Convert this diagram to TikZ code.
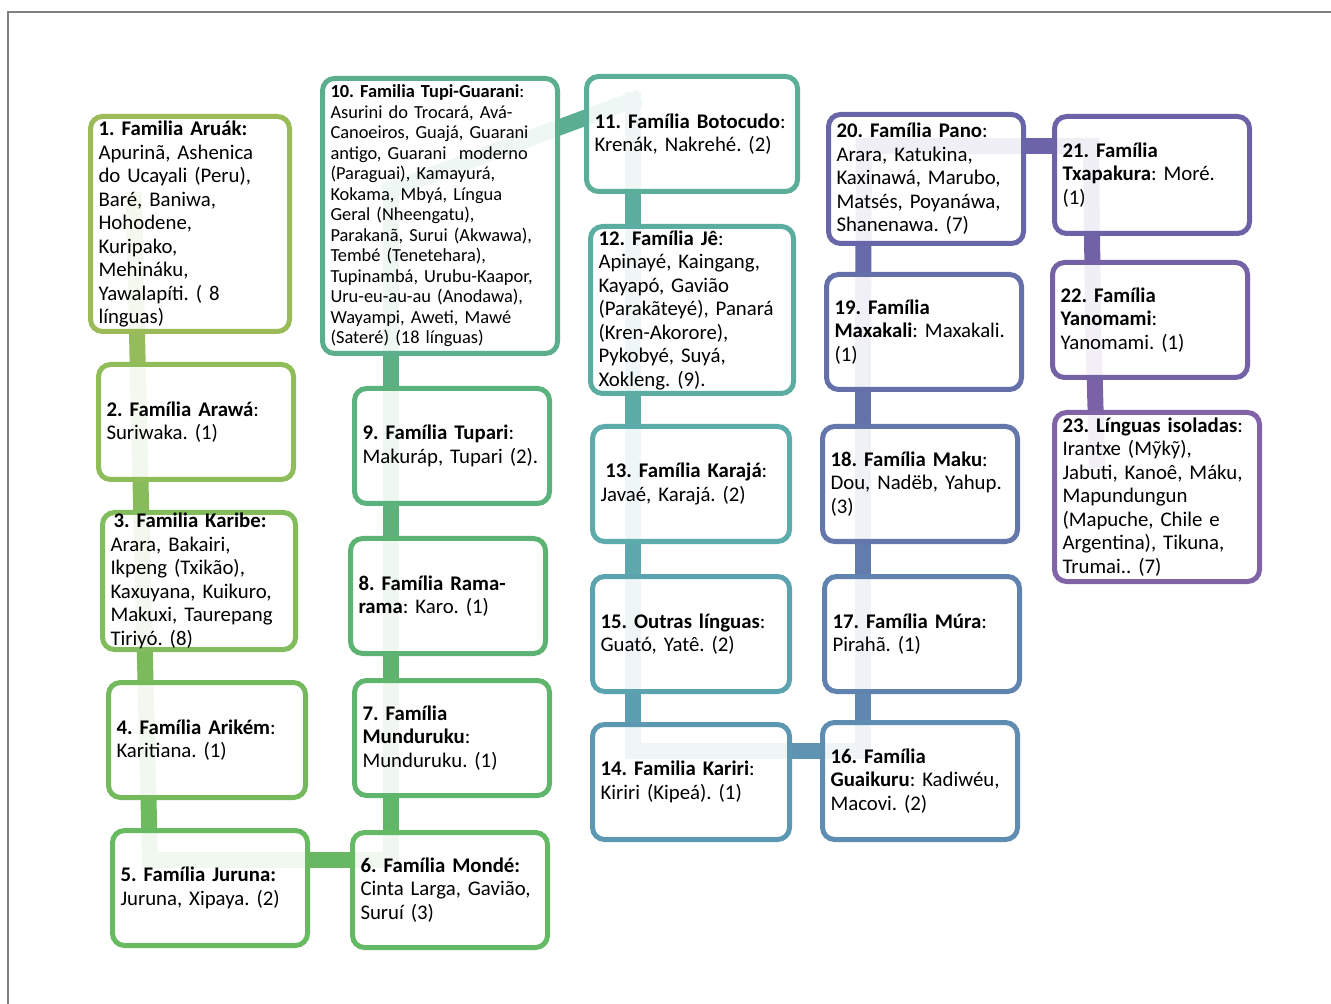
\documentclass[tikz,border=0pt]{standalone}
\usepackage{fontspec}
\setmainfont{Carlito}
\definecolor{f1}{HTML}{9BBB59}
\definecolor{f2}{HTML}{8FBD5A}
\definecolor{f3}{HTML}{82BC5C}
\definecolor{f4}{HTML}{74BA5C}
\definecolor{f5}{HTML}{68BA60}
\definecolor{f6}{HTML}{64B965}
\definecolor{f7}{HTML}{5FB56C}
\definecolor{f8}{HTML}{5DB373}
\definecolor{f9}{HTML}{5BB27C}
\definecolor{f10}{HTML}{5BAF8C}
\definecolor{f11}{HTML}{5BAE98}
\definecolor{f12}{HTML}{5CADA1}
\definecolor{f13}{HTML}{5BACAA}
\definecolor{f15}{HTML}{5CA3B0}
\definecolor{f14}{HTML}{5C98B2}
\definecolor{f16}{HTML}{5F8DB2}
\definecolor{f17}{HTML}{6082AF}
\definecolor{f18}{HTML}{6377AC}
\definecolor{f19}{HTML}{6570AA}
\definecolor{f20}{HTML}{6866A8}
\definecolor{f21}{HTML}{6E62A7}
\definecolor{f22}{HTML}{7561A6}
\definecolor{f23}{HTML}{8163A8}
\tikzset{
  fam/.style n args={3}{draw=#1, line width=2.5pt, rounded corners=6pt,
    fill=white, fill opacity=0.9, text opacity=1, align=left,
    inner xsep=4pt, inner ysep=0pt, text width=#2, minimum height=#3,
    font=\fontsize{10.4}{11.75}\selectfont\frenchspacing},
  conn/.style={line width=8pt, line cap=rect}
}
\begin{document}
\begin{tikzpicture}[x=0.5pt,y=-0.5pt]
    \useasboundingbox (0,0) rectangle (1331,1004);
    \coordinate (p1) at (134,200);
    \coordinate (p2) at (139,422);
    \coordinate (p3) at (143,581);
    \coordinate (p4) at (147,740);
    \coordinate (k1) at (150,860);
    \coordinate (k2) at (391,860);
    \coordinate (p7) at (391,738);
    \coordinate (p8) at (391,596);
    \coordinate (p9) at (391,446);
    \coordinate (k3) at (391,190);
    \coordinate (k4) at (633,100);
    \coordinate (p12) at (633,310);
    \coordinate (p13) at (633,484);
    \coordinate (p15) at (633,634);
    \coordinate (k5) at (633,751);
    \coordinate (k6) at (863,751);
    \coordinate (p17) at (863,634);
    \coordinate (p18) at (863,484);
    \coordinate (p19) at (863,332);
    \coordinate (k7) at (864,146);
    \coordinate (k8) at (1091,146);
    \coordinate (p22) at (1093,320);
    \coordinate (p23) at (1097,460);
    % Conector
    \draw[conn,f1!50!f2] (p1) -- (p2);
    \draw[conn,f2!50!f3] (p2) -- (p3);
    \draw[conn,f3!50!f4] (p3) -- (p4);
    \draw[conn,f4!50!f5] (p4) -- (k1);
    \draw[conn,f5!50!f6] (k1) -- (k2);
    \draw[conn,f6!50!f7] (k2) -- (p7);
    \draw[conn,f7!50!f8] (p7) -- (p8);
    \draw[conn,f8!50!f9] (p8) -- (p9);
    \draw[conn,f9!50!f10] (p9) -- (k3);
    \draw[conn,f10!50!f11] (k3) -- (k4);
    \draw[conn,f11!50!f12] (k4) -- (p12);
    \draw[conn,f12!50!f13] (p12) -- (p13);
    \draw[conn,f13!50!f15] (p13) -- (p15);
    \draw[conn,f15!50!f14] (p15) -- (k5);
    \draw[conn,f14!50!f16] (k5) -- (k6);
    \draw[conn,f16!50!f17] (k6) -- (p17);
    \draw[conn,f17!50!f18] (p17) -- (p18);
    \draw[conn,f18!50!f19] (p18) -- (p19);
    \draw[conn,f19!50!f20] (p19) -- (k7);
    \draw[conn,f20!50!f21] (k7) -- (k8);
    \draw[conn,f21!50!f22] (k8) -- (p22);
    \draw[conn,f22!50!f23] (p22) -- (p23);
    % Famílias
    \node[fam={f1}{91.5pt}{107.5pt}] (b1) at (190,224) {\textbf{1. Familia Aruák:}\\ Apurinã, Ashenica\\ do Ucayali (Peru),\\ Baré, Baniwa,\\ Hohodene,\\ Kuripako,\\ Mehináku,\\ Yawalapíti. ( 8\\ línguas)};
    \node[fam={f2}{89.5pt}{57.5pt}] (b2) at (196,422) {\textbf{2. Família Arawá}:\\ Suriwaka. (1)};
    \node[fam={f3}{88.5pt}{68.5pt}] (b3) at (199,581) {\hspace*{1.5pt}\textbf{3. Familia Karibe:}\\ Arara, Bakairi,\\ Ikpeng (Txikão),\\ Kaxuyana, Kuikuro,\\ Makuxi, Taurepang\\ Tiriyó. (8)};
    \node[fam={f4}{90.5pt}{57.5pt}] (b4) at (207,740) {\textbf{4. Família Arikém}:\\ Karitiana. (1)};
    \node[fam={f5}{89.5pt}{57.5pt}] (b5) at (210,888) {\textbf{5. Família Juruna:}\\ Juruna, Xipaya. (2)};
    \node[fam={f6}{89.5pt}{57.5pt}] (b6) at (450,890) {\textbf{6. Família Mondé:}\\ Cinta Larga, Gavião,\\ Suruí (3)};
    \node[fam={f7}{89.5pt}{57.5pt}] (b7) at (452,738) {\textbf{7. Família}\\ \textbf{Munduruku}:\\ Munduruku. (1)};
    \node[fam={f8}{89.5pt}{57.5pt}] (b8) at (448,596) {\textbf{8. Família Rama-}\\ \textbf{rama}: Karo. (1)};
    \node[fam={f9}{89.5pt}{57.5pt}] (b9) at (452,446) {\textbf{9. Família Tupari}:\\ Makuráp, Tupari (2).};
    \node[fam={f10}{109.5pt}{137.5pt}, font=\fontsize{9.2}{10.25}\selectfont\frenchspacing] (b10) at (440,216) {\textbf{10. Familia Tupi-Guarani}:\\ Asurini do Trocará, Avá-\\ Canoeiros, Guajá, Guarani\\ antigo, Guarani\ \ moderno\\ (Paraguai), Kamayurá,\\ Kokama, Mbyá, Língua\\ Geral (Nheengatu),\\ Parakanã, Surui (Akwawa),\\ Tembé (Tenetehara),\\ Tupinambá, Urubu-Kaapor,\\ Uru-eu-au-au (Anodawa),\\ Wayampi, Aweti, Mawé\\ (Sateré) (18 línguas)};
    \node[fam={f11}{97.5pt}{57.5pt}] (b11) at (692,134) {\textbf{11. Família Botocudo}:\\ Krenák, Nakrehé. (2)};
    \node[fam={f12}{93.5pt}{83.5pt}] (b12) at (692,310) {\textbf{12. Família Jê}:\\ Apinayé, Kaingang,\\ Kayapó, Gavião\\ (Parakãteyé), Panará\\ (Kren-Akorore),\\ Pykobyé, Suyá,\\ Xokleng. (9).};
    \node[fam={f13}{90.5pt}{57.5pt}] (b13) at (691,484) {\hspace*{2.4pt}\textbf{13. Família Karajá}:\\ Javaé, Karajá. (2)};
    \node[fam={f15}{90.5pt}{57.5pt}] (b15) at (691,634) {\textbf{15. Outras línguas}:\\ Guató, Yatê. (2)};
    \node[fam={f14}{90.5pt}{57.5pt}] (b14) at (691,782) {\textbf{14. Familia Kariri}:\\ Kiriri (Kipeá). (1)};
    \node[fam={f16}{89.5pt}{58.5pt}] (b16) at (920,781) {\textbf{16. Família}\\ \textbf{Guaikuru}: Kadiwéu,\\ Macovi. (2)};
    \node[fam={f17}{89.5pt}{57.5pt}] (b17) at (922,634) {\textbf{17. Família Múra}:\\ Pirahã. (1)};
    \node[fam={f18}{89.5pt}{57.5pt}] (b18) at (920,484) {\textbf{18. Família Maku}:\\ Dou, Nadëb, Yahup.\\ (3)};
    \node[fam={f19}{89.5pt}{57.5pt}] (b19) at (924,332) {\textbf{19. Família}\\ \textbf{Maxakali}: Maxakali.\\ (1)};
    \node[fam={f20}{89.5pt}{64.5pt}] (b20) at (926,179) {\textbf{20. Família Pano}:\\ Arara, Katukina,\\ Kaxinawá, Marubo,\\ Matsés, Poyanáwa,\\ Shanenawa. (7)};
    \node[fam={f21}{89.5pt}{58.5pt}] (b21) at (1152,175) {\textbf{21. Família}\\ \textbf{Txapakura}: Moré.\\ (1)};
    \node[fam={f22}{89.5pt}{57.5pt}] (b22) at (1150,320) {\textbf{22. Família}\\ \textbf{Yanomami}:\\ Yanomami. (1)};
    \node[fam={f23}{94.5pt}{84.5pt}] (b23) at (1157,497) {\textbf{23. Línguas isoladas}:\\ Irantxe (Mỹkỹ),\\ Jabuti, Kanoê, Máku,\\ Mapundungun\\ (Mapuche, Chile e\\ Argentina), Tikuna,\\ Trumai.. (7)};
    % Marco
    \draw[black!50, line width=0.75pt] (8,1004) -- (8,12) -- (1331,12);
\end{tikzpicture}
\end{document}
